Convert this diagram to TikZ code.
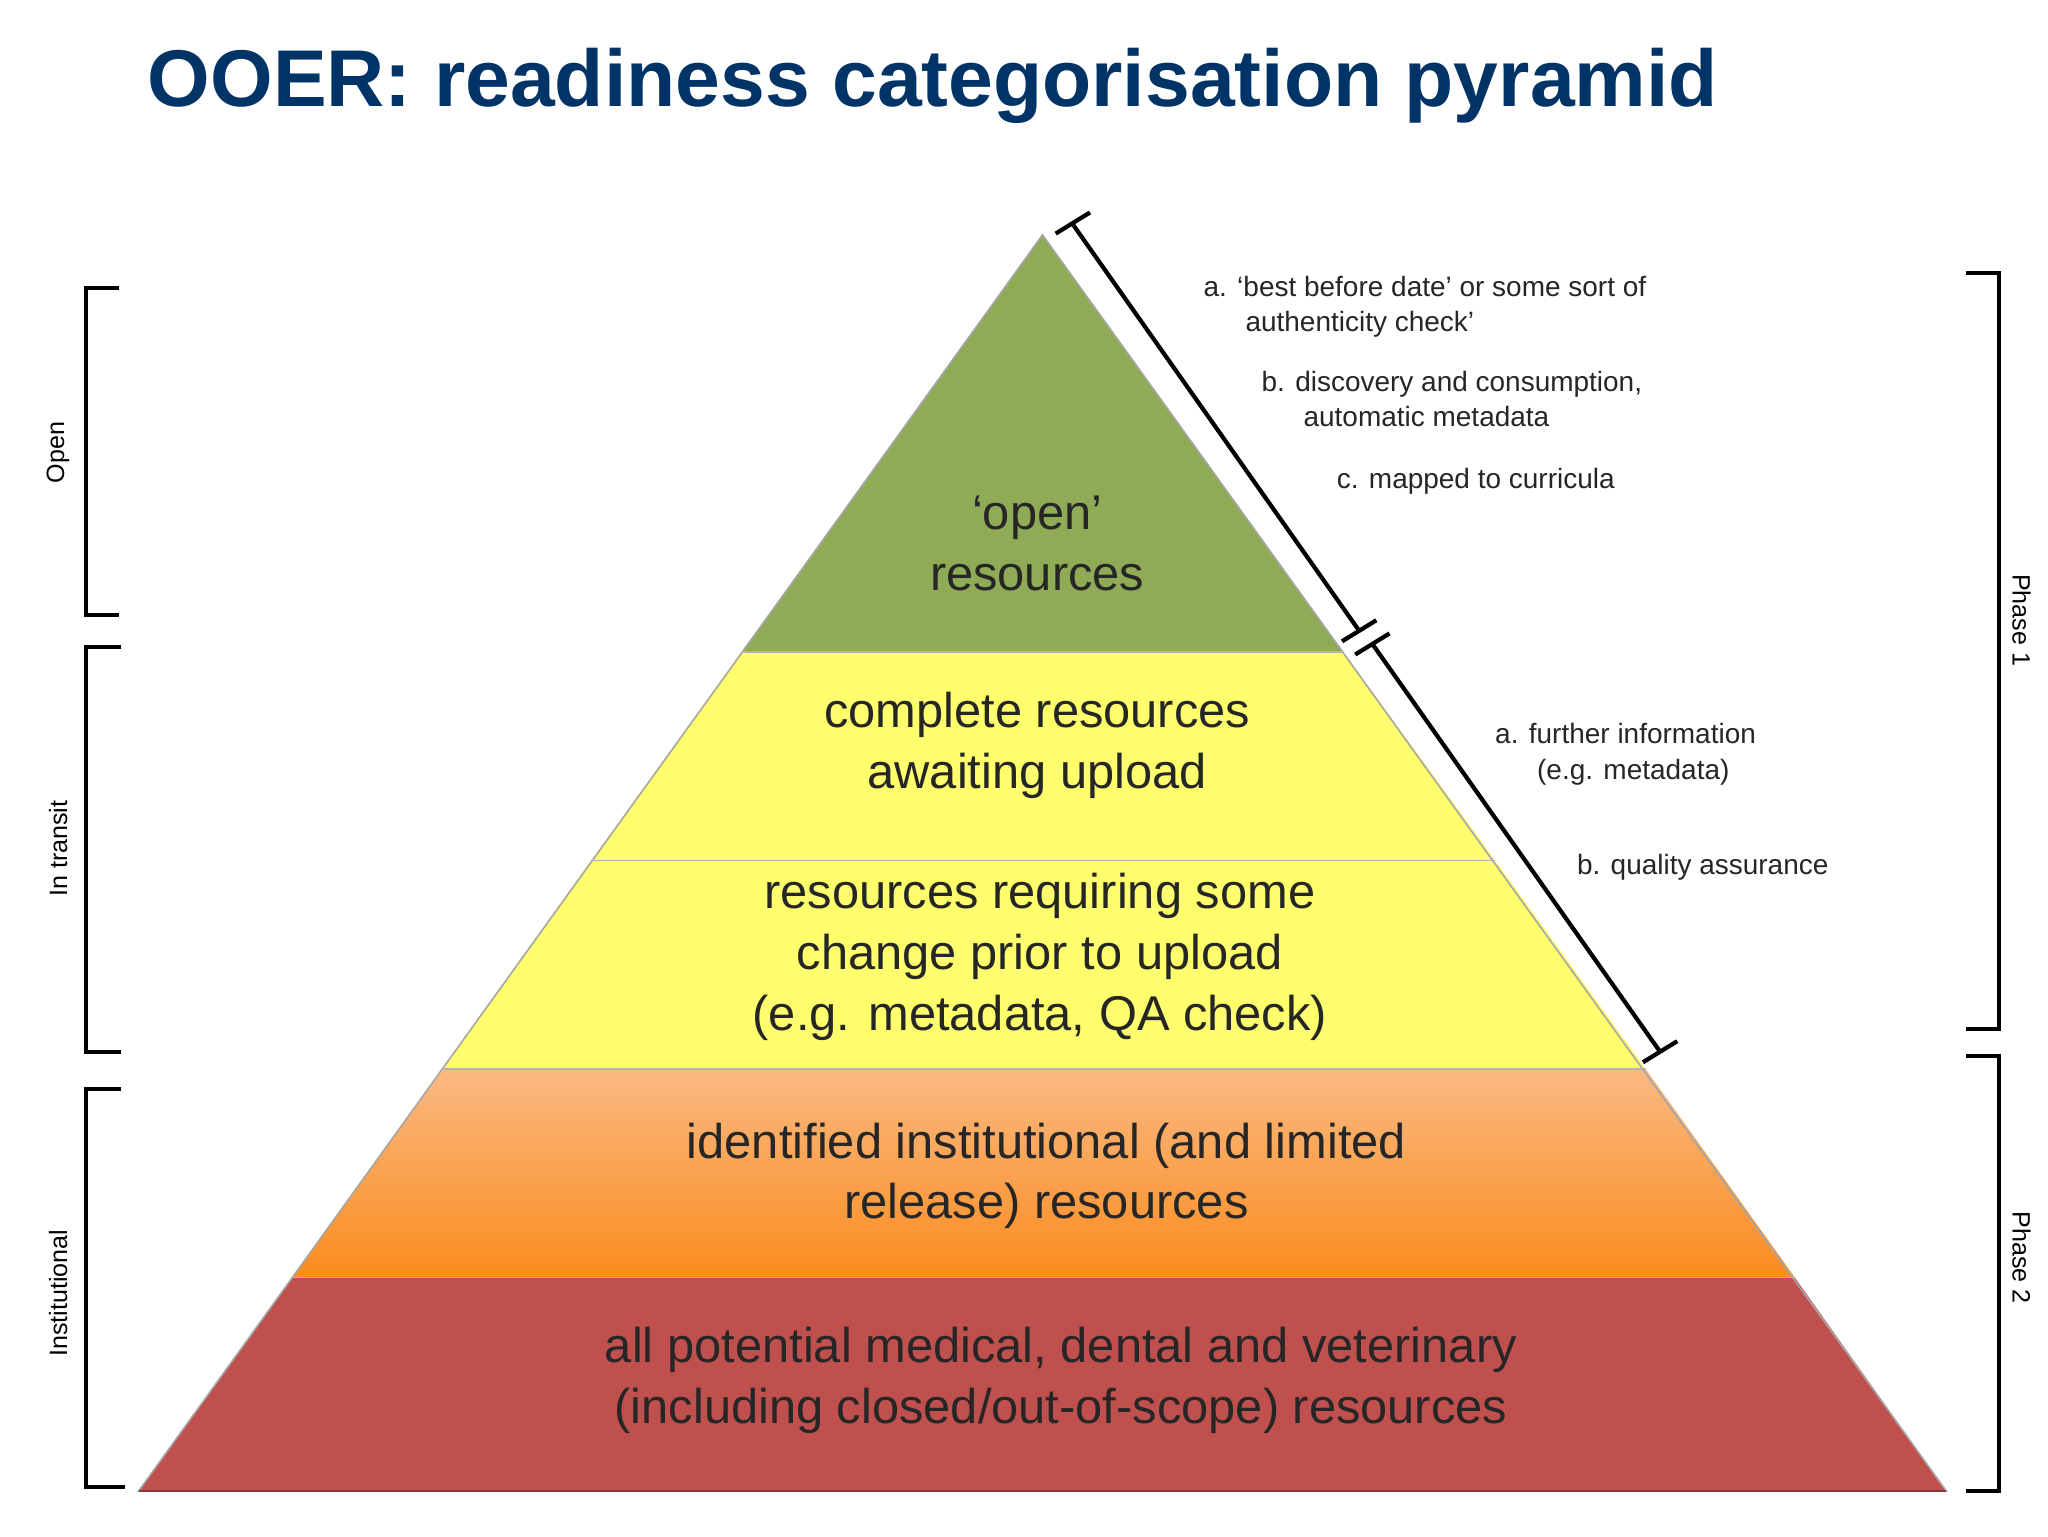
\documentclass[tikz,border=0pt]{standalone}
\usepackage{fontspec}
\setmainfont{Liberation Sans}
\begin{document}
\begin{tikzpicture}[x=0.5pt,y=-0.5pt,
  lay/.style={align=center,font=\fontsize{18.5}{23}\selectfont,text=black!85},
  ann/.style={align=left,font=\fontsize{10.6}{13.5}\selectfont,text=black!85,anchor=north west},
  side/.style={font=\fontsize{9.5}{11}\selectfont},
  brk/.style={line width=1.6pt}]
\useasboundingbox (0,0) rectangle (1552,1164);
\fill[white] (0,0) rectangle (1552,1164);
\node[anchor=west,font=\fontsize{30.5}{34}\selectfont\bfseries,text={rgb,255:red,0;green,51;blue,102}] (title) at (105,65) {OOER: readiness categorisation pyramid};
% layers
\definecolor{gr}{HTML}{8FAB55}
\definecolor{ye}{HTML}{FFFF6E}
\definecolor{rd}{HTML}{C0504D}
\fill[gr] (790,178) -- (1018,494) -- (562,494) -- cycle;
\fill[ye] (562,494) -- (1018,494) -- (1133,652) -- (448,652) -- cycle;
\fill[ye] (448,652) -- (1133,652) -- (1247,810) -- (335,810) -- cycle;
\shade[top color={rgb,255:red,250;green,185;blue,130},bottom color={rgb,255:red,250;green,140;blue,30}] (335,810) -- (1247,810) -- (1360,968) -- (222,968) -- cycle;
\fill[rd] (222,968) -- (1360,968) -- (1475,1130) -- (105,1130) -- cycle;
\draw[black!35,line width=0.6pt] (790,178) -- (1475,1130) -- (105,1130) -- cycle;
\draw[black!30,line width=0.6pt] (562,494)--(1018,494) (448,652)--(1133,652) (335,810)--(1247,810) (222,968)--(1360,968);
\draw[rd!70!black,line width=1pt] (105,1130)--(1475,1130);
\node[lay] (l1) at (786,412) {`open'\\resources};
\node[lay] (l2) at (786,565) {complete resources\\awaiting upload};
\node[lay] (l3) at (788,725) {resources requiring some\\change prior to upload\\(e.g. metadata, QA check)};
\node[lay] (l4) at (793,891) {identified institutional (and limited\\release) resources};
\node[lay] (l5) at (804,1046) {all potential medical, dental and veterinary\\(including closed/out-of-scope) resources};
% diagonal markers
\coordinate (d1a) at (813,170); \coordinate (d1b) at (1030,478);
\coordinate (d2a) at (1040,488); \coordinate (d2b) at (1258,797);
\draw[brk] (d1a)--(d1b) (d2a)--(d2b);
\draw[brk] (800,177)--(826,161) (1017,486)--(1043,470);
\draw[brk] (1027,496)--(1053,480) (1245,805)--(1271,789);
% annotations
\node[ann] (a1) at (905,202) {a. `best before date' or some sort of\\\hspace*{1.5em}authenticity check'};
\node[ann] (a2) at (949,274) {b. discovery and consumption,\\\hspace*{1.5em}automatic metadata};
\node[ann] (a3) at (1006,348) {c. mapped to curricula};
\node[ann] (a4) at (1126,541) {a. further information\\\hspace*{1.5em}(e.g. metadata)};
\node[ann] (a5) at (1188,640) {b. quality assurance};
% left brackets
\draw[brk] (90,218)--(65,218)--(65,466)--(90,466);
\draw[brk] (92,490)--(65,490)--(65,797)--(92,797);
\draw[brk] (92,825)--(65,825)--(65,1127)--(95,1127);
\node[side,rotate=90] (o) at (44,343) {Open};
\node[side,rotate=90] (t) at (44,643) {In transit};
\node[side,rotate=90] (i) at (44,980) {Institutional};
% right brackets
\draw[brk] (1490,207)--(1515,207)--(1515,780)--(1490,780);
\draw[brk] (1490,800)--(1515,800)--(1515,1130)--(1490,1130);
\node[side,rotate=-90] (p1) at (1532,470) {Phase 1};
\node[side,rotate=-90] (p2) at (1532,953) {Phase 2};
\end{tikzpicture}
\end{document}
